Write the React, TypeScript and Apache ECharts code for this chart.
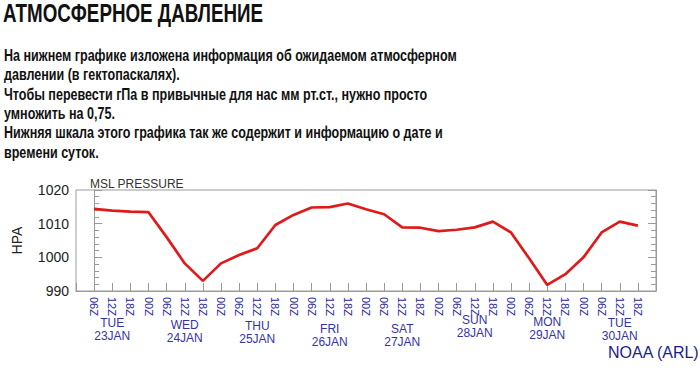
import React, { useEffect, useRef } from 'react';
import * as echarts from 'echarts';

const hourLabels = [
  '06Z', '12Z', '18Z',
  '00Z', '06Z', '12Z', '18Z',
  '00Z', '06Z', '12Z', '18Z',
  '00Z', '06Z', '12Z', '18Z',
  '00Z', '06Z', '12Z', '18Z',
  '00Z', '06Z', '12Z', '18Z',
  '00Z', '06Z', '12Z', '18Z',
  '00Z', '06Z', '12Z', '18Z',
];
const pressure = [
  1014.4, 1013.9, 1013.6,
  1013.4, 1006.0, 998.2, 993.0,
  998.2, 1000.7, 1002.7, 1009.6,
  1012.6, 1014.8, 1014.9, 1016.0,
  1014.3, 1012.8, 1008.9, 1008.8,
  1007.8, 1008.2, 1008.9, 1010.6,
  1007.4, 999.7, 991.8, 995.0,
  1000.0, 1007.4, 1010.6, 1009.4,
];
const dayNames = ['TUE', 'WED', 'THU', 'FRI', 'SAT', 'SUN', 'MON', 'TUE'];
const dayDates = ['23JAN', '24JAN', '25JAN', '26JAN', '27JAN', '28JAN', '29JAN', '30JAN'];
const dayLabelNudge = [3, 5, 6, 9, 9, 0, 2, 3];
const yMin = 990;
const yMax = 1020;
const yStep = 10;

const titleText = 'АТМОСФЕРНОЕ ДАВЛЕНИЕ';
const bodyLines = [
  'На нижнем графике изложена информация об ожидаемом атмосферном',
  'давлении (в гектопаскалях).',
  'Чтобы перевести гПа в привычные для нас мм рт.ст., нужно просто',
  'умножить на 0,75.',
  'Нижняя шкала этого графика так же содержит и информацию о дате и',
  'времени суток.',
];

const FONT = '"Liberation Sans", Arial, Helvetica, sans-serif';

function measure(text: string, font: string): number {
  const c = document.createElement('canvas').getContext('2d');
  if (!c) return 1;
  c.font = font;
  return c.measureText(text).width;
}

export default function App() {
  const ref = useRef<HTMLDivElement>(null);
  useEffect(() => {
    document.body.style.margin = '0';
    if (!ref.current) return;
    const chart = echarts.init(ref.current, null, { renderer: 'svg' });

    const titleW = measure(titleText, `bold 25px ${FONT}`);
    const titleScale = 260 / titleW;
    const bodyW = measure(bodyLines[0], `bold 17px ${FONT}`);
    const bodyScale = 453 / bodyW;

    const axisColor = '#9a9a9a';

    chart.setOption({
      animation: false,
      backgroundColor: '#ffffff',
      grid: { left: 76, right: 44, top: 190, bottom: 77, show: true, borderColor: axisColor, borderWidth: 1 },
      xAxis: [
        {
          type: 'value', min: -1, max: 31, interval: 1,
          axisLine: { show: true, lineStyle: { color: axisColor } },
          axisTick: { show: true, inside: true, length: 8, lineStyle: { color: axisColor } },
          splitLine: { show: false },
          axisLabel: {
            rotate: -90, margin: 6, fontSize: 11, color: '#2a2a9c', fontFamily: FONT,
            formatter: (v: number) => hourLabels[v] ?? '',
          },
        },
      ],
      yAxis: [
        {
          type: 'value', min: yMin, max: yMax, interval: yStep, position: 'left',
          name: 'HPA', nameLocation: 'middle', nameGap: 52, nameRotate: 90,
          nameTextStyle: { fontSize: 14, color: '#222', fontFamily: FONT },
          axisLine: { show: true, lineStyle: { color: axisColor } },
          axisTick: { show: true, inside: true, length: 8, lineStyle: { color: axisColor } },
          minorTick: { show: true, splitNumber: 5, length: 5, lineStyle: { color: axisColor } },
          splitLine: { show: false },
          axisLabel: { fontSize: 14, color: '#222', margin: 7, fontFamily: FONT, formatter: (v: number) => String(v) },
        },
        {
          type: 'value', min: yMin, max: yMax, interval: yStep, position: 'right',
          axisLine: { show: true, lineStyle: { color: axisColor } },
          axisTick: { show: true, inside: true, length: 8, lineStyle: { color: axisColor } },
          minorTick: { show: true, splitNumber: 5, length: 5, lineStyle: { color: axisColor } },
          splitLine: { show: false },
          axisLabel: { show: false },
        },
      ],
      series: [
        {
          type: 'line',
          data: pressure.map((p, i) => [i, p]),
          symbol: 'none',
          lineStyle: { color: '#e01a1a', width: 2.7 },
        },
      ],
    });

    // day/date labels centred under each 12Z tick, via the axis scale
    const dayTexts: any[] = [];
    let d = 0;
    hourLabels.forEach((h, i) => {
      if (h === '12Z' && d < dayNames.length) {
        const px = chart.convertToPixel({ xAxisIndex: 0 }, i) as number;
        dayTexts.push({
          type: 'text', x: px, y: 314 + dayLabelNudge[d],
          style: {
            text: dayNames[d] + '\n' + dayDates[d], font: `12px ${FONT}`, fill: '#3434a8',
            align: 'center', verticalAlign: 'top', lineHeight: 12.5,
          },
        });
        d += 1;
      }
    });

    chart.setOption({
      graphic: [
        {
          type: 'text', x: 3, y: 1, scaleX: titleScale,
          style: { text: titleText, font: `bold 25px ${FONT}`, fill: '#111' },
        },
        {
          type: 'text', x: 4, y: 45, scaleX: bodyScale,
          style: { text: bodyLines.join('\n'), font: `bold 17px ${FONT}`, fill: '#111', lineHeight: 19.35 },
        },
        {
          type: 'text', x: 90, y: 178,
          style: { text: 'MSL PRESSURE', font: `12px ${FONT}`, fill: '#333' },
        },
        {
          type: 'text', x: 608, y: 344,
          style: { text: 'NOAA (ARL)', font: `16px ${FONT}`, fill: '#1c1c8c' },
        },
        ...dayTexts,
      ],
    });
    return () => chart.dispose();
  }, []);
  return <div ref={ref} style={{ width: 700, height: 368 }} />;
}
